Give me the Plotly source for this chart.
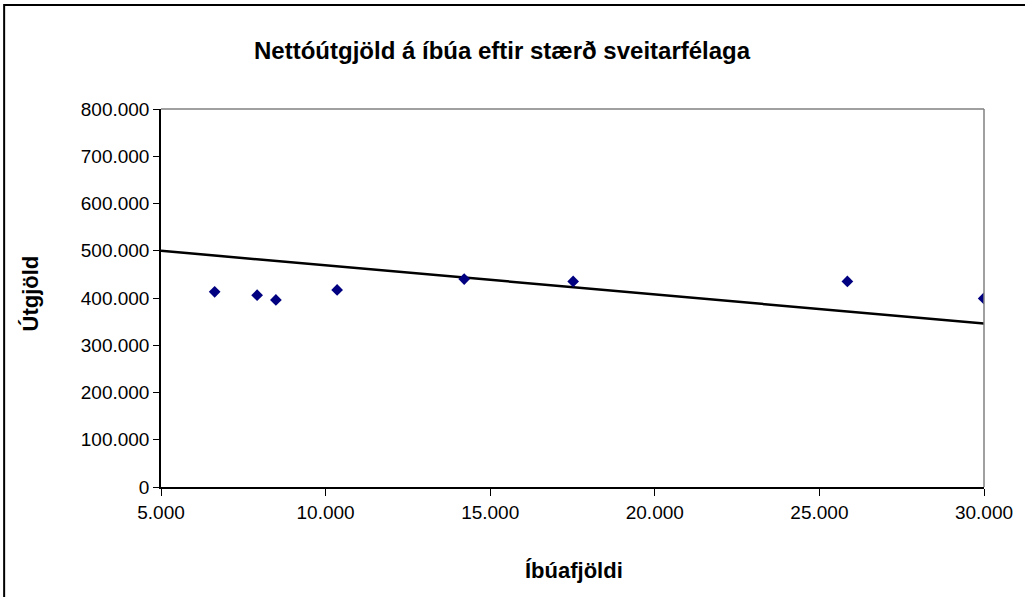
import plotly.graph_objects as go

# Data
ibuafjoldi = [6630, 7920, 8490, 10350, 14210, 17520, 25850, 29990]
utgjold = [413000, 406000, 396000, 417000, 440000, 435000, 435000, 399000]
trend_x = [5000, 30000]
trend_y = [500000, 346000]

x_ticks = [5000, 10000, 15000, 20000, 25000, 30000]
y_ticks = [0, 100000, 200000, 300000, 400000, 500000, 600000, 700000, 800000]

FONT = "Liberation Sans, Arial, sans-serif"

fig = go.Figure()
fig.add_trace(go.Scatter(
    x=trend_x, y=trend_y, mode="lines",
    line=dict(color="black", width=2.5), hoverinfo="skip", showlegend=False))
fig.add_trace(go.Scatter(
    x=ibuafjoldi, y=utgjold, mode="markers",
    marker=dict(symbol="diamond", size=9, color="#000080"), showlegend=False))

L, R, T, B = 161, 990, 109, 487
W, H = 1025, 597
pw, ph = R - L, B - T

def px(x):
    return (x - L) / pw

def py(y):
    return (B - y) / ph

fig.update_layout(
    width=W, height=H,
    margin=dict(l=L, r=W - R, t=T, b=H - B, pad=0),
    paper_bgcolor="white", plot_bgcolor="white",
    separators=",.",
    font=dict(family=FONT, size=19, color="black"),
    xaxis=dict(range=[5000, 30000], tickvals=x_ticks, tickformat=",d",
               showgrid=False, zeroline=False, showline=True, linecolor="black",
               linewidth=1.5, ticks="outside", ticklen=7, tickcolor="black",
               tickfont=dict(size=19, family=FONT)),
    yaxis=dict(range=[0, 800000], tickvals=y_ticks, tickformat=",d",
               showgrid=False, zeroline=False, showline=True, linecolor="black",
               linewidth=1.5, ticks="outside", ticklen=6, tickcolor="black",
               tickfont=dict(size=19, family=FONT)),
    shapes=[
        # gray plot-area border (top and right)
        dict(type="line", xref="paper", yref="paper", x0=0, x1=1, y0=1, y1=1,
             line=dict(color="#808080", width=1.5)),
        dict(type="line", xref="paper", yref="paper", x0=1, x1=1, y0=0, y1=1,
             line=dict(color="#808080", width=1.5)),
        # outer chart border
        dict(type="rect", xref="paper", yref="paper",
             x0=px(3), x1=px(1040), y0=py(615), y1=py(5),
             line=dict(color="black", width=2), layer="below"),
    ],
    annotations=[
        dict(text="<b>Nettóútgjöld á íbúa eftir stærð sveitarfélaga</b>",
             xref="paper", yref="paper", x=px(505), y=py(50),
             xanchor="center", yanchor="middle", showarrow=False,
             font=dict(size=24, family=FONT)),
        dict(text="<b>Íbúafjöldi</b>", xref="paper", yref="paper",
             x=px(577), y=py(570), xanchor="center", yanchor="middle",
             showarrow=False, font=dict(size=22, family=FONT)),
        dict(text="<b>Útgjöld</b>", xref="paper", yref="paper",
             x=px(29.5), y=py(293), xanchor="center", yanchor="middle",
             textangle=-90, showarrow=False, font=dict(size=22, family=FONT)),
    ],
)

fig.write_html("out.html", config={"displayModeBar": False},
               post_script="document.body.style.margin='0';document.body.style.overflow='hidden';")
